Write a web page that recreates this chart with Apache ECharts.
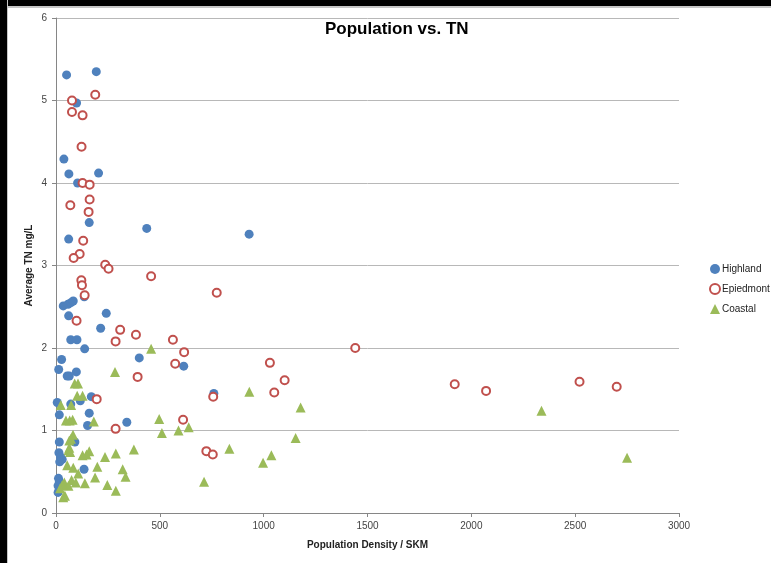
<!DOCTYPE html>
<html lang="en">
<head>
    <meta charset="UTF-8">
    <title>Population vs. TN</title>
    <script src="https://cdn.jsdelivr.net/npm/echarts@6/dist/echarts.min.js"></script>
    <style>
        body{
            margin: 0;
            background: #fff;
        }
        #chart{
            position: absolute;
            left: 0;
            top: 0;
            width: 771px;
            height: 563px;
        }
        #edgeTop{
            position: absolute;
            left: 0; top: 0;
            width: 771px; height: 6px;
            background: #000;
            border-bottom: 2px solid #c6c6c6;
        }
        #edgeLeft{
            position: absolute;
            left: 0; top: 0;
            width: 7px; height: 563px;
            background: #000;
            border-right: 1px solid #c6c6c6;
        }
    </style>
</head>
<body>
    <div id="chart"></div>
    <div id="edgeTop"></div>
    <div id="edgeLeft"></div>

<script>
    // [population density, average TN]
    var highland = [
        [51,5.31],[194,5.35],[99,4.97],[38,4.29],[62,4.11],[205,4.12],[104,4.00],[160,3.52],
        [437,3.45],[61,3.32],[930,3.38],[136,2.62],[35,2.51],[58,2.53],[72,2.55],[83,2.57],
        [61,2.39],[242,2.42],[215,2.24],[71,2.10],[101,2.10],[138,1.99],[27,1.86],[401,1.88],
        [615,1.78],[13,1.74],[98,1.71],[54,1.66],[64,1.66],[760,1.45],[170,1.41],[117,1.36],
        [6,1.34],[71,1.32],[16,1.19],[160,1.21],[341,1.10],[152,1.06],[16,0.86],[91,0.86],
        [14,0.73],[22,0.68],[30,0.65],[18,0.62],[135,0.53],[12,0.42],[16,0.38],[10,0.33],[10,0.25]
    ];
    var epiedmont = [
        [189,5.07],[77,5.00],[77,4.86],[128,4.82],[123,4.44],[128,4.00],[162,3.98],[162,3.80],
        [157,3.65],[69,3.73],[131,3.30],[114,3.14],[85,3.09],[237,3.01],[253,2.96],[458,2.87],
        [122,2.82],[125,2.76],[138,2.64],[774,2.67],[99,2.33],[309,2.22],[385,2.16],[287,2.08],
        [563,2.10],[617,1.95],[574,1.81],[393,1.65],[196,1.38],[757,1.41],[612,1.13],[287,1.02],
        [724,0.75],[755,0.71],[1441,2.00],[1030,1.82],[1101,1.61],[1051,1.46],[1920,1.56],
        [2071,1.48],[2521,1.59],[2700,1.53]
    ];
    var coastal = [
        [458,1.99],[284,1.71],[90,1.57],[106,1.57],[102,1.42],[128,1.42],[23,1.31],[73,1.31],
        [48,1.12],[66,1.12],[80,1.13],[182,1.11],[497,1.14],[510,0.97],[590,1.00],[639,1.04],
        [64,0.88],[72,0.90],[82,0.95],[60,0.76],[68,0.74],[64,0.79],[160,0.75],[147,0.71],
        [128,0.70],[236,0.68],[288,0.72],[375,0.77],[835,0.78],[931,1.47],[1178,1.28],[2338,1.24],
        [1154,0.91],[1037,0.70],[997,0.61],[2750,0.67],[713,0.38],[54,0.58],[83,0.55],[199,0.56],
        [321,0.53],[107,0.48],[188,0.43],[335,0.44],[139,0.36],[247,0.34],[288,0.27],[40,0.37],
        [60,0.33],[75,0.40],[30,0.34],[95,0.37],[35,0.19],[43,0.21],[20,0.30]
    ];
    var seriesNames = ['Highland', 'Epiedmont', 'Coastal'];

    var font = 'Liberation Sans';
    var myChart = echarts.init(document.getElementById('chart'));
    myChart.setOption({
        animation: false,
        backgroundColor: '#fff',
        title: {
            text: 'Population vs. TN',
            left: 320,
            top: 16,
            textStyle: {fontFamily: font, fontSize: 17, fontWeight: 'bold', color: '#000'}
        },
        legend: {
            orient: 'vertical',
            left: 704,
            top: 259,
            itemGap: 9,
            itemWidth: 10,
            itemHeight: 10,
            data: seriesNames,
            textStyle: {fontFamily: font, fontSize: 10, color: '#222', padding: [0, 0, 0, -3]}
        },
        grid: {left: 56, right: 92, top: 18, bottom: 50},
        xAxis: {
            type: 'value',
            min: 0, max: 3000, interval: 500,
            name: 'Population Density / SKM',
            nameLocation: 'middle',
            nameGap: 27,
            nameMoveOverlap: false,
            nameTextStyle: {fontFamily: font, fontSize: 10, fontWeight: 'bold', color: '#222'},
            axisLine: {lineStyle: {color: '#868686'}},
            axisTick: {show: true, length: 4, lineStyle: {color: '#868686'}},
            axisLabel: {fontFamily: font, fontSize: 10, color: '#444', margin: 8,
                formatter: function (v) { return String(v); }},
            splitLine: {show: false}
        },
        yAxis: {
            type: 'value',
            min: 0, max: 6, interval: 1,
            name: 'Average TN mg/L',
            nameLocation: 'middle',
            nameGap: 22,
            nameMoveOverlap: false,
            nameTextStyle: {fontFamily: font, fontSize: 10, fontWeight: 'bold', color: '#222'},
            axisLine: {show: true, lineStyle: {color: '#868686'}},
            axisTick: {show: true, length: 4, lineStyle: {color: '#868686'}},
            axisLabel: {fontFamily: font, fontSize: 10, color: '#444', margin: 9},
            splitLine: {lineStyle: {color: '#b8b8b8'}}
        },
        series: [{
            name: 'Highland',
            type: 'scatter',
            symbol: 'circle',
            symbolSize: 9,
            itemStyle: {color: '#4f81bd', opacity: 1},
            data: highland
        },{
            name: 'Epiedmont',
            type: 'scatter',
            symbol: 'emptyCircle',
            symbolSize: 8,
            itemStyle: {color: '#c0504d', borderColor: '#c0504d', borderWidth: 1.3, opacity: 1},
            data: epiedmont
        },{
            name: 'Coastal',
            type: 'scatter',
            symbol: 'triangle',
            symbolSize: 10,
            itemStyle: {color: '#9bbb59', opacity: 1},
            data: coastal
        }]
    });
</script>
</body>
</html>
